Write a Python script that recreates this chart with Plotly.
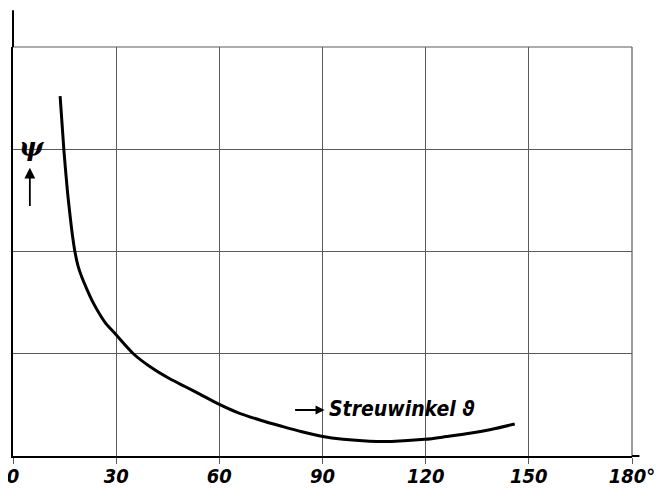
import plotly.graph_objects as go

# Data (scattering angle in degrees, psi in grid units)
theta = [13.7, 14.8, 15.8, 16.5, 17.2, 18.0, 18.9, 20.0, 21.5, 23.3, 26.7, 29.6,
         35.0, 40.0, 45.6, 50.0, 54.3, 59.7, 65.0, 72.0, 78.5, 84.0, 89.7, 96.0,
         103.7, 110.0, 119.7, 126.0, 132.8, 139.0, 145.9]
psi = [3.52, 2.99, 2.60, 2.38, 2.18, 2.00, 1.86, 1.75, 1.63, 1.50, 1.31, 1.20,
       1.00, 0.87, 0.755, 0.68, 0.605, 0.51, 0.43, 0.35, 0.287, 0.237, 0.193, 0.163,
       0.145, 0.143, 0.163, 0.19, 0.222, 0.26, 0.313]

x_ticks = [0, 30, 60, 90, 120, 150, 180]
x_labels = ["0", "30", "60", "90", "120", "150", "180°"]
y_grid = [0, 1, 2, 3, 4]

# page body has an 8px margin; compensate so the plot sits where the reference has it
W, H = 657, 480
L, R, T, B = 5, 32.5, 39, 32

GRID = "#5a5a5a"

fig = go.Figure()
fig.add_trace(go.Scatter(x=theta, y=psi, mode="lines",
                         line=dict(color="black", width=3, shape="spline", smoothing=0.8),
                         hoverinfo="skip", showlegend=False))

tick_font = dict(family="DejaVu Sans Condensed, DejaVu Sans", size=20, color="black",
                 style="italic", weight="bold")

fig.update_xaxes(range=[0, 180], tickvals=x_ticks, ticktext=x_labels,
                 showgrid=True, gridcolor=GRID, gridwidth=1.2,
                 showline=True, linecolor="black", linewidth=2,
                 ticks="outside", ticklen=6, tickcolor=GRID, tickwidth=1.2,
                 ticklabelstandoff=-5, ticklabeloverflow="allow",
                 tickfont=tick_font, zeroline=False, fixedrange=True, automargin=False)
fig.update_yaxes(range=[0, 4], tickvals=y_grid, showticklabels=False,
                 showgrid=True, gridcolor=GRID, gridwidth=1.2,
                 showline=True, linecolor="black", linewidth=2,
                 ticks="", zeroline=False, fixedrange=True, automargin=False)

# top and right border grid lines
fig.add_shape(type="line", xref="paper", yref="paper", x0=0, x1=1, y0=1, y1=1,
              line=dict(color=GRID, width=1.2))
fig.add_shape(type="line", xref="paper", yref="paper", x0=1, x1=1, y0=0, y1=1,
              line=dict(color=GRID, width=1.2))
# left axis extends above the grid
fig.add_shape(type="line", xref="paper", yref="paper", x0=0, x1=0, y0=1, y1=1.09,
              line=dict(color="black", width=2))
# bottom axis slightly past 180
fig.add_shape(type="line", xref="paper", yref="paper", x0=1, x1=1.012, y0=0, y1=0,
              line=dict(color="black", width=2))

lab_font = dict(family="DejaVu Sans Condensed, DejaVu Sans", size=21, color="black",
                style="italic", weight="bold")

# psi label with upward arrow
fig.add_annotation(x=5.5, y=3.02, text="ψ", showarrow=False,
                   font=dict(family="DejaVu Serif", size=26, color="black",
                             style="italic", weight="bold"))
fig.add_annotation(x=4.9, y=2.82, ax=4.9, ay=2.43, axref="x", ayref="y", text="",
                   showarrow=True, arrowhead=2, arrowsize=1.2, arrowwidth=1.8, arrowcolor="black")

# "-> Streuwinkel theta"
fig.add_annotation(x=90.6, y=0.45, ax=81.6, ay=0.45, axref="x", ayref="y", text="",
                   showarrow=True, arrowhead=2, arrowsize=1, arrowwidth=1.8, arrowcolor="black")
fig.add_annotation(x=91.3, y=0.46, text="Streuwinkel ϑ", showarrow=False,
                   xanchor="left", yanchor="middle", font=lab_font)

fig.update_layout(width=W, height=H, margin=dict(l=L, r=R, t=T, b=B),
                  paper_bgcolor="white", plot_bgcolor="white", showlegend=False)

fig.write_html("out.html")
